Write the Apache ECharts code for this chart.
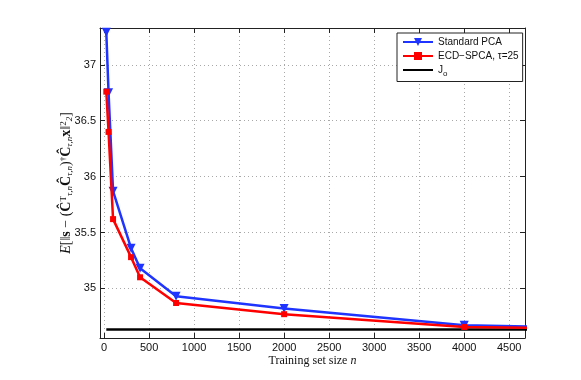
<!DOCTYPE html>
<html>
<head>
<meta charset="utf-8">
<script src="https://cdn.jsdelivr.net/npm/echarts@6/dist/echarts.min.js"></script>
<style>
  html, body { margin: 0; padding: 0; background: #fff; }
  #chart { width: 581px; height: 380px; }
</style>
</head>
<body>
<div id="chart"></div>
<script>
// training set sizes (n) and the two error curves
var nValues = [25, 50, 100, 300, 400, 800, 2000, 4000, 5000]
var pcaValues = [37.29, 36.75, 35.87, 35.36, 35.18, 34.93, 34.82, 34.671, 34.656]
var spcaValues = [36.76, 36.40, 35.62, 35.28, 35.10, 34.87, 34.77, 34.656, 34.645]
// J_o reference level, drawn across the range
var joRange = [25, 5000]
var joValue = 34.632

var seriesNames = ['Standard PCA', 'ECD\u2212SPCA, \u03c4=25', 'Jo']

function pairs(xs, ys) {
	return xs.map(function (x, i) { return [x, ys[i]] })
}

var chart = echarts.init(document.getElementById('chart'), null, { renderer: 'canvas' })

var sans = 'Liberation Sans'
var serif = 'Liberation Serif'
var axisColor = '#222'

var frameAxis = {
	axisLine: { show: true, onZero: false, lineStyle: { color: axisColor, width: 1 } },
	axisTick: { show: true, inside: true, length: 5, lineStyle: { color: axisColor } },
	axisLabel: { show: false },
	splitLine: { show: false }
}

var option = {
	backgroundColor: '#fff',
	animation: false,
	grid: {
		left: 100,
		right: 56,
		top: 28,
		bottom: 42
	},
	legend: {
		orient: 'vertical',
		left: 397,
		top: 33,
		data: [
			seriesNames[0],
			seriesNames[1],
			{ name: seriesNames[2], itemStyle: { opacity: 0 } }
		],
		backgroundColor: '#fff',
		borderColor: '#222',
		borderWidth: 1,
		borderRadius: 0,
		padding: [4, 4, 4, 5],
		itemGap: 4,
		itemWidth: 30,
		itemHeight: 10,
		textStyle: {
			fontFamily: sans,
			fontSize: 10,
			color: '#111',
			rich: {
				sub: { fontFamily: sans, fontSize: 8, color: '#111', padding: [7, 0, 0, 0] }
			}
		},
		formatter: function (name) {
			return name === 'Jo' ? 'J{sub|o}' : name
		}
	},
	xAxis: [
		{
			type: 'value',
			min: -45,
			max: 4675,
			minInterval: 500,
			maxInterval: 500,
			axisLine: { show: true, onZero: false, lineStyle: { color: axisColor, width: 1 } },
			axisTick: { show: true, inside: true, length: 5, lineStyle: { color: axisColor } },
			axisLabel: {
				show: true,
				showMinLabel: false,
				showMaxLabel: false,
				margin: 4,
				color: '#111',
				fontFamily: sans,
				fontSize: 11,
				formatter: function (v) { return String(v) }
			},
			splitLine: {
				show: true,
				lineStyle: { color: '#a8a8a8', type: [1, 3], width: 1 }
			},
			name: 'Training set size {i|n}',
			nameLocation: 'middle',
			nameMoveOverlap: false,
			nameGap: 17,
			nameTextStyle: {
				fontFamily: serif,
				fontSize: 12,
				color: '#111',
				rich: { i: { fontFamily: serif, fontStyle: 'italic', fontSize: 12, color: '#111' } }
			}
		},
		Object.assign({}, frameAxis, {
			type: 'value',
			position: 'top',
			min: -45,
			max: 4675,
			minInterval: 500,
			maxInterval: 500
		})
	],
	yAxis: [
		{
			type: 'value',
			min: 34.557,
			max: 37.329,
			minInterval: 0.5,
			maxInterval: 0.5,
			axisLine: { show: true, onZero: false, lineStyle: { color: axisColor, width: 1 } },
			axisTick: { show: true, inside: true, length: 5, lineStyle: { color: axisColor } },
			axisLabel: {
				show: true,
				showMinLabel: false,
				showMaxLabel: false,
				margin: 4,
				color: '#111',
				fontFamily: sans,
				fontSize: 11
			},
			splitLine: {
				show: true,
				lineStyle: { color: '#a8a8a8', type: [1, 3], width: 1 }
			},
			name: '{i|E}[\u2016{b|s} \u2212 ({b|\u0108}{sup|T}{sub|\u03c4,n}{b|\u0108}{sub|\u03c4,n}){sup|\u2020}{b|\u0108}{sub|\u03c4,n}{b|x}\u2016{sup|2}{sub|2}]',
			nameLocation: 'middle',
			nameRotate: 90,
			nameMoveOverlap: false,
			nameGap: 26,
			nameTextStyle: {
				fontFamily: serif,
				fontSize: 14,
				color: '#111',
				rich: {
					i: { fontFamily: serif, fontStyle: 'italic', fontSize: 14, color: '#111' },
					b: { fontFamily: serif, fontWeight: 'bold', fontSize: 14, color: '#111' },
					sub: { fontFamily: serif, fontStyle: 'italic', fontSize: 9, color: '#111', padding: [6, 0, 0, 0] },
					sup: { fontFamily: serif, fontSize: 9, color: '#111', padding: [0, 0, 6, 0] }
				}
			}
		},
		Object.assign({}, frameAxis, {
			type: 'value',
			position: 'right',
			min: 34.557,
			max: 37.329,
			minInterval: 0.5,
			maxInterval: 0.5
		})
	],
	series: [
		{
			name: seriesNames[0],
			type: 'line',
			data: pairs(nValues, pcaValues),
			symbol: 'triangle',
			symbolRotate: 180,
			symbolSize: 9,
			clip: true,
			itemStyle: { color: '#1f35ff' },
			lineStyle: { color: '#1f35ff', width: 2.5 },
			z: 3
		},
		{
			name: seriesNames[1],
			type: 'line',
			data: pairs(nValues, spcaValues),
			symbol: 'rect',
			symbolSize: 6,
			clip: true,
			itemStyle: { color: '#ff0000' },
			lineStyle: { color: '#ff0000', width: 2.5 },
			z: 4
		},
		{
			name: seriesNames[2],
			type: 'line',
			data: pairs(joRange, [joValue, joValue]),
			symbol: 'none',
			clip: true,
			itemStyle: { color: '#000' },
			lineStyle: { color: '#000', width: 2.5 },
			z: 2
		}
	]
}

chart.setOption(option)
</script>
</body>
</html>
